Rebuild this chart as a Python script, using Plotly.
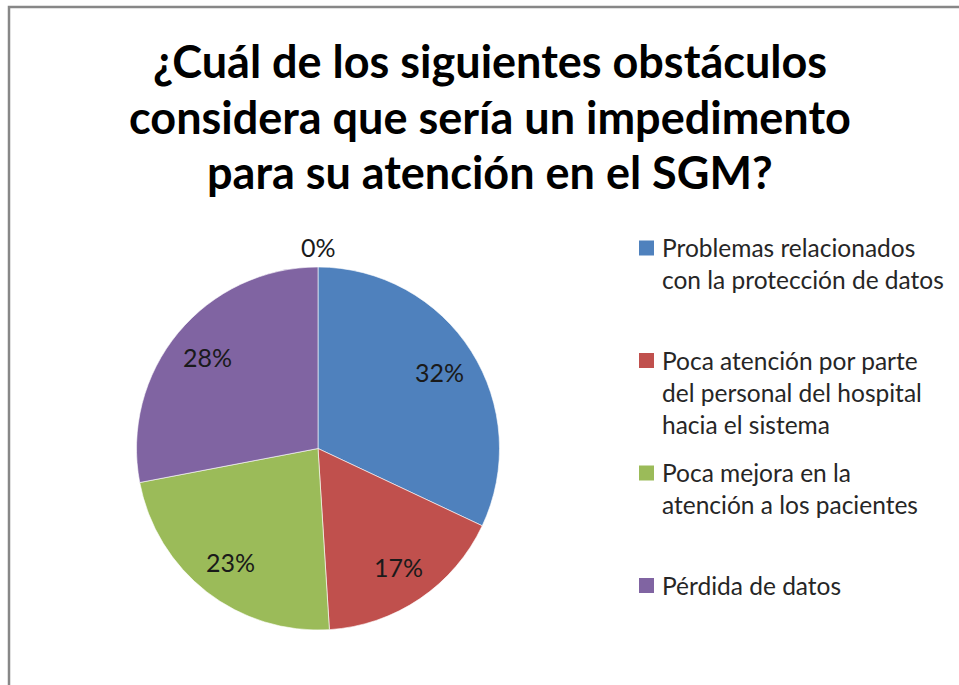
import math
import plotly.graph_objects as go

# ---- data ----
TITLE_LINES = [
    "¿Cuál de los siguientes obstáculos",
    "considera que sería un impedimento",
    "para su atención en el SGM?",
]
CATEGORIES = [
    "Problemas relacionados<br>con la protección de datos",
    "Poca atención por parte<br>del personal del hospital<br>hacia el sistema",
    "Poca mejora en la<br>atención a los pacientes",
    "Pérdida de datos",
]
VALUES = [32, 17, 23, 28]
OTHER_VALUE = 0  # unnamed category shown only as a 0% label
COLORS = ["#4F81BD", "#C0504D", "#9BBB59", "#8064A2"]

# ---- layout geometry (pixels) ----
W, H = 959, 685
CX, CY, R = 318, 448.5, 181.5          # pie centre / radius
LEG_X_SQ, LEG_X_TXT = 646.5, 660        # legend square centre / text start
LEG_Y0, LEG_STEP, SQ = 248, 112.5, 15   # first legend row, spacing, square size


def px(x):
    return x / W


def py(y):
    return 1 - y / H


fig = go.Figure(go.Pie(
    labels=[c.replace("<br>", " ") for c in CATEGORIES],
    values=VALUES,
    marker=dict(colors=COLORS, line=dict(color="white", width=0.6)),
    sort=False,
    direction="clockwise",
    rotation=0,
    textinfo="none",
    hoverinfo="label+percent",
    showlegend=False,
    domain=dict(x=[px(CX - R), px(CX + R)], y=[py(CY + R), py(CY - R)]),
))

total = sum(VALUES) + OTHER_VALUE
annotations = []
shapes = []


def add_label(frac_start, frac, rfrac):
    mid = (frac_start + frac / 2) * 2 * math.pi
    x = CX + R * rfrac * math.sin(mid)
    y = CY - R * rfrac * math.cos(mid)
    annotations.append(dict(
        x=px(x), y=py(y), xref="paper", yref="paper",
        text=f"{round(frac * 100)}%", showarrow=False,
        font=dict(family="Lato", size=25, color="#1a1a1a"),
        xanchor="center", yanchor="middle"))


cum = 0.0
for v in VALUES:
    f = v / total
    add_label(cum, f, 0.79)
    cum += f
add_label(0.0, OTHER_VALUE / total, 1.11)

# title lines
TITLE_Y = [61, 117, 172]
for line, ty in zip(TITLE_LINES, TITLE_Y):
    annotations.append(dict(
        x=px(490), y=py(ty), xref="paper", yref="paper",
        text=f"<b>{line}</b>", showarrow=False,
        font=dict(family="Lato", size=45, color="black"),
        xanchor="center", yanchor="middle"))

# legend
for i, (cat, col) in enumerate(zip(CATEGORIES, COLORS)):
    yc = LEG_Y0 + i * LEG_STEP
    shapes.append(dict(type="rect", xref="paper", yref="paper",
                       x0=px(LEG_X_SQ - SQ / 2), x1=px(LEG_X_SQ + SQ / 2),
                       y0=py(yc + SQ / 2), y1=py(yc - SQ / 2),
                       fillcolor=col, line=dict(width=0)))
    annotations.append(dict(
        x=px(LEG_X_TXT), y=py(yc - 17), xref="paper", yref="paper",
        text=cat, showarrow=False, align="left",
        font=dict(family="Lato", size=24.5, color="#262626"),
        xanchor="left", yanchor="top"))

# chart-area frame (left and top edges visible)
shapes.append(dict(type="path", xref="paper", yref="paper",
                   path=f"M {px(9)},{py(700)} L {px(9)},{py(7)} L {px(980)},{py(7)}",
                   line=dict(color="#878787", width=2.5)))

fig.update_layout(
    width=W, height=H,
    margin=dict(l=0, r=0, t=0, b=0),
    paper_bgcolor="white",
    plot_bgcolor="white",
    annotations=annotations,
    shapes=shapes,
)

fig.write_html("out.html",
               config={"displayModeBar": False},
               post_script="document.body.style.margin='0';"
                           "document.body.style.overflow='hidden';")
